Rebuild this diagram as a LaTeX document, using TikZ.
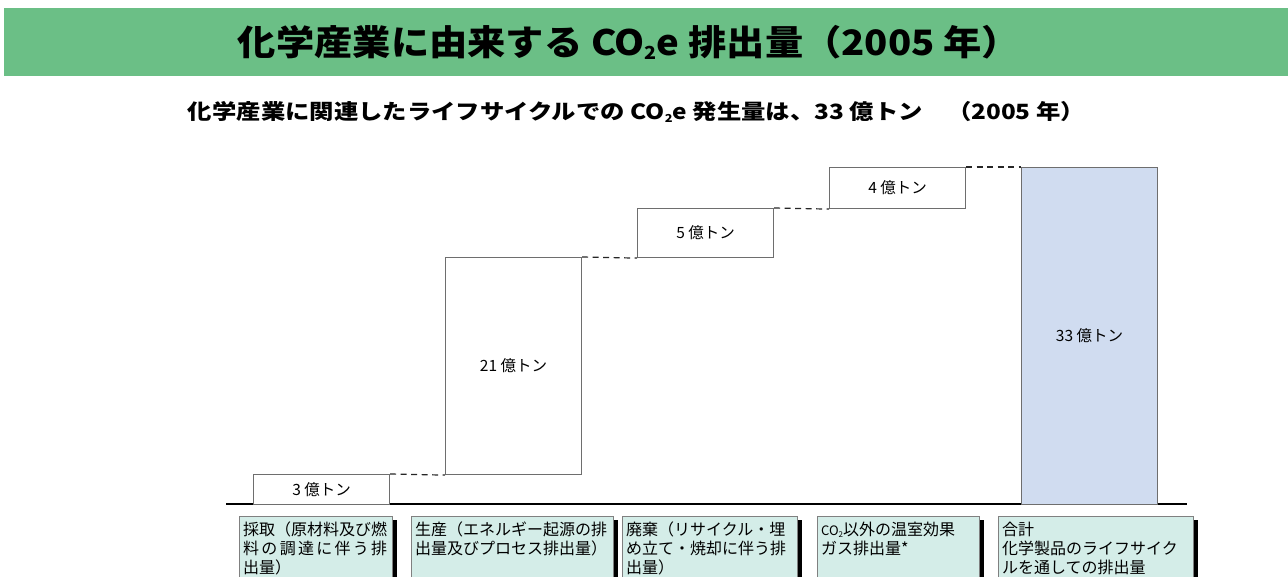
\documentclass[tikz,border=0pt]{standalone}
\usepackage{graphicx}
\usepackage{fontspec}
\setmainfont{Noto Sans CJK JP}
\definecolor{bannergreen}{HTML}{6BBF86}
\definecolor{totalfill}{HTML}{D0DCF0}
\definecolor{capfill}{HTML}{D4EDE8}
\definecolor{edgegray}{HTML}{6E6E6E}
\newcommand{\subtwo}[1]{\raisebox{-0.12em}{\fontsize{#1}{#1}\selectfont 2}}
\begin{document}
\begin{tikzpicture}[x=1pt,y=-1pt,
  bar/.style={draw=edgegray, line width=1.1pt, fill=white, minimum width=136pt, anchor=north west, inner sep=0, font=\fontsize{15.5}{18}\selectfont},
  link/.style={draw=black!85, line width=1.2pt, dash pattern=on 6pt off 4.5pt},
  capbox/.style={draw=black!50, fill=capfill, line width=0.9pt, anchor=north west, inner sep=0, minimum height=80pt},
  shadowbar/.style={fill=black},
  captext/.style={font=\fontsize{16}{19}\selectfont, align=left, anchor=north west, inner sep=0}]
\useasboundingbox (0,0) rectangle (1288,577);
\clip (0,0) rectangle (1288,577);
% banner
\fill[bannergreen] (4,8) rectangle (1288,76);
\node[font=\fontsize{35}{40}\selectfont\bfseries, inner sep=0] (title) at (629,42)
  {\resizebox{782pt}{\height}{化学産業に由来する CO\subtwo{18}e 排出量（2005 年）}};
\node[font=\fontsize{21}{25}\selectfont\bfseries, inner sep=0] (sub) at (636.5,112)
  {\resizebox{897pt}{\height}{化学産業に関連したライフサイクルでの CO\subtwo{11}e 発生量は、33 億トン　（2005 年）}};
% baseline
\coordinate (axl) at (226,504);
\coordinate (axr) at (1187,504);
\draw[line width=2.6pt] (axl) -- (axr);
% bars
\node[bar, minimum height=30pt] (b1) at (253,474) {3 億トン};
\node[bar, minimum height=217pt] (b2) at (445,257) {21 億トン};
\node[bar, minimum height=49pt] (b3) at (637,208) {5 億トン};
\node[bar, minimum height=41pt] (b4) at (829,167) {4 億トン};
\node[bar, minimum height=337pt, fill=totalfill] (b5) at (1021,167) {33 億トン};
% dashed connectors
\draw[link] (b1.north east) -- (b2.south west);
\draw[link] (b2.north east) -- (b3.south west);
\draw[link] (b3.north east) -- (b4.south west);
\draw[link] (b4.north east) -- (b5.north west);
% caption boxes
\node[capbox, minimum width=153pt] (cA) at (239,516) {};
\node[capbox, minimum width=202pt] (cB) at (411,516) {};
\node[capbox, minimum width=175pt] (cC) at (622,516) {};
\node[capbox, minimum width=162pt] (cD) at (817,516) {};
\node[capbox, minimum width=195pt] (cE) at (998,516) {};
\foreach \c in {cA,cB,cC,cD,cE}{
  \fill[shadowbar] ([yshift=-4pt]\c.north east) rectangle ([xshift=4pt]\c.south east);
}
\node[captext] (tA) at ([xshift=4pt,yshift=-6pt]cA.north west)
  {採取（原材料及び燃\\\hbox to 9em{料\hfill の\hfill 調\hfill 達\hfill に\hfill 伴\hfill う\hfill 排}\\出量）};
\node[captext] (tB) at ([xshift=4pt,yshift=-6pt]cB.north west)
  {生産（エネルギー起源の排\\出量及びプロセス排出量）};
\node[captext] (tC) at ([xshift=4pt,yshift=-6pt]cC.north west)
  {廃棄（リサイクル・埋\\め立て・焼却に伴う排\\出量）};
\node[captext] (tD) at ([xshift=4pt,yshift=-6pt]cD.north west)
  {{\fontsize{13}{16}\selectfont CO\subtwo{8}}以外の温室効果\\ガス排出量*};
\node[captext] (tE) at ([xshift=4pt,yshift=-6pt]cE.north west)
  {合計\\化学製品のライフサイク\\ルを通しての排出量};
\end{tikzpicture}
\end{document}
